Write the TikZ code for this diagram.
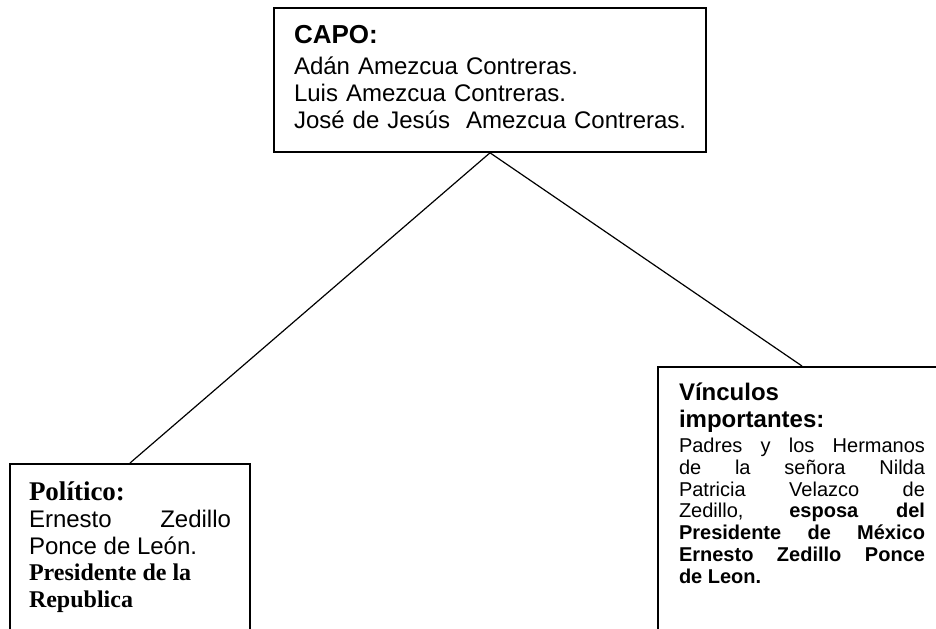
\documentclass[tikz,border=0pt]{standalone}
\usepackage{fontspec}
\setmainfont{Liberation Sans}
\newfontfamily\serifbold{Liberation Serif}
\hyphenpenalty=10000

\tikzstyle{box} = [draw,line width=0.9pt,rectangle,anchor=north,inner ysep=0pt,font=\fontsize{12}{13.3}\selectfont]
\tikzstyle{link} = [line width=0.6pt]

\begin{document}
\begin{tikzpicture}[x=0.5pt,y=-0.5pt]
		\useasboundingbox (0,0) rectangle (936,628);
		\clip (0,0) rectangle (936,628);
		\node[box,inner xsep=10pt,text width=196pt,align=left,text height=18pt,text depth=54pt] (capo) at (490,7)
			{{\fontsize{13}{14}\selectfont\bfseries CAPO:}\\[2.2pt]
			Adán Amezcua Contreras.\\
			Luis Amezcua Contreras.\\
			\mbox{José de Jesús~ Amezcua Contreras.}};
		\node[box,inner xsep=9.5pt,text width=101pt,align=justify,text height=18.5pt,text depth=110pt] (politico) at (130,463)
			{{\serifbold\fontsize{13.5}{15}\selectfont\bfseries Político:}\\
			Ernesto Zedillo\linebreak Ponce de León.\\
			{\serifbold\bfseries Presidente de la\\ Republica}};
		\node[box,inner xsep=10.5pt,text width=123pt,align=justify,text height=17pt,text depth=160pt] (vinculos) at (802,366)
			{{\bfseries Vínculos\\ importantes:}\par\vspace{1.6pt}
			{\fontsize{10}{10.9}\selectfont Padres y los Hermanos\linebreak de la señora Nilda\linebreak
			Patricia Velazco de\linebreak Zedillo, \textbf{esposa del\linebreak Presidente de México\linebreak
			Ernesto Zedillo Ponce\linebreak de Leon.}\par}};
		\draw[link] (capo.south) -- (politico.north);
		\draw[link] (capo.south) -- (vinculos.north);
\end{tikzpicture}
\end{document}
